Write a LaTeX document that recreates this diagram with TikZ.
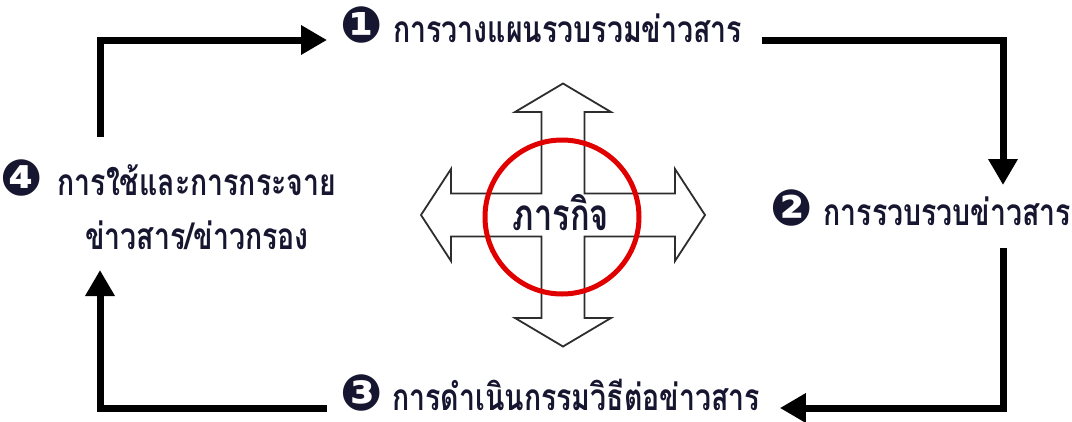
\documentclass[tikz,border=0pt]{standalone}
\usepackage{fontspec}
\usetikzlibrary{arrows.meta}
\newfontfamily\thaifont[Script=Thai,FakeStretch=0.77]{Loma}
\newfontfamily\thaibig[Script=Thai,FakeStretch=0.74]{Loma}
\newfontfamily\bulfont{DejaVu Sans}
\newcommand{\mybul}[1]{{\bulfont\fontsize{50}{50}\selectfont #1}}
\definecolor{txtcol}{RGB}{22,22,48}
\definecolor{ringred}{RGB}{224,0,0}
\definecolor{crossgray}{RGB}{45,45,45}
\begin{document}
\begin{tikzpicture}[x=1pt,y=-1pt,
  flow/.style={line width=7pt,line join=miter,-{Triangle[length=26pt,width=28pt]}},
  lbl/.style={inner sep=0pt,text=txtcol,font=\thaifont\bfseries\fontsize{37}{44}\selectfont}]
\useasboundingbox (0,0) rectangle (1072,421);
% labels
\node[lbl,anchor=base west,outer xsep=15pt] (n1) at (325,42)
  {\mybul{❶}\hspace{11pt}การวางแผนรวบรวมข่าวสาร};
\node[lbl,anchor=base west] (n2) at (770,225)
  {\mybul{❷}\hspace{11pt}การรวบรวบข่าวสาร};
\node[lbl,anchor=base west,outer xsep=15pt] (n3) at (325,410)
  {\mybul{❸}\hspace{10pt}การดำเนินกรรมวิธีต่อข่าวสาร};
\node[lbl,anchor=base west] (n4) at (0,195)
  {\mybul{❹}\hspace{15pt}\begin{tabular}[t]{@{}c@{}}การใช้และการกระจาย\\[10pt]ข่าวสาร/ข่าวกรอง\end{tabular}};
% connector ends
\coordinate (c4out) at (100,137);
\coordinate (c4in) at (100,270);
\coordinate (c2in) at (1003,185);
\coordinate (c2out) at (1003,248);
% connectors
\draw[flow] (c4out) |- ([yshift=2pt,xshift=2pt]n1.base west);
\draw[flow] ([yshift=2pt,xshift=5pt]n1.base east) -| (c2in);
\draw[flow] (c2out) |- ([yshift=2pt,xshift=5pt]n3.base east);
\draw[flow] ([yshift=2pt,xshift=2pt]n3.base west) -| (c4in);
% central cross
\coordinate (ctr) at (563,215);
\draw[crossgray,line width=1.8pt,fill=white,line join=miter] (ctr)
  ++(142,0) -- ++(-30,-46) -- ++(0,24.5) -- ++(-90.5,0) -- ++(0,-81.5)
  -- ++(26.5,0) -- ++(-48,-28.5) -- ++(-48,28.5) -- ++(26.5,0) -- ++(0,81.5)
  -- ++(-90.5,0) -- ++(0,-24.5) -- ++(-30,46) -- ++(30,46) -- ++(0,-24.5)
  -- ++(90.5,0) -- ++(0,81.5) -- ++(-26.5,0) -- ++(48,28.5) -- ++(48,-28.5)
  -- ++(-26.5,0) -- ++(0,-81.5) -- ++(90.5,0) -- ++(0,24.5) -- cycle;
\node[draw=ringred,line width=5pt,circle,minimum size=154pt,inner sep=0pt] (ring) at (562,217) {};
\node[inner sep=0pt,text=txtcol,font=\thaibig\bfseries\fontsize{44}{50}\selectfont,anchor=base] (mission) at (561,230) {ภารกิจ};
\end{tikzpicture}
\end{document}
